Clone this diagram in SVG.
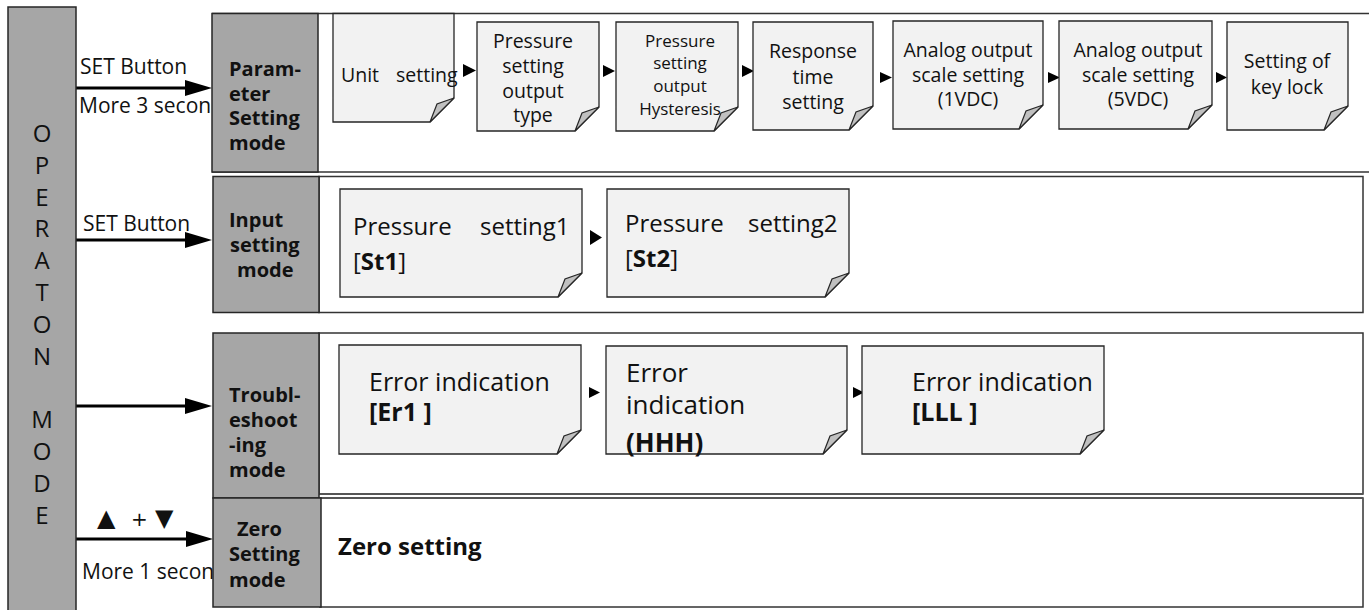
<svg xmlns="http://www.w3.org/2000/svg" width="1369" height="610" viewBox="0 0 1369 610">
<style>
text{font-family:"Open Sans","Noto Sans","DejaVu Sans",sans-serif;fill:#111}
.grey{fill:#a6a6a6;stroke:#262626;stroke-width:1.5}
.note{fill:#f2f2f2;stroke:#262626;stroke-width:1.3}
.fold{fill:#c0c0c0;stroke:#262626;stroke-width:1.2}
.band{fill:#fff;stroke:#333;stroke-width:1.5}
.lbl{font-weight:bold;font-size:20px}
.op{font-size:24px;text-anchor:middle}
.s1{font-size:19.5px;text-anchor:middle}
.s3{font-size:17px;text-anchor:middle}
.s2{font-size:24px}
.e{font-size:25px}
.b{font-weight:bold}
.arr{stroke:#000;stroke-width:3;fill:none}
.tri{fill:#000}
.cl{font-size:21px}
</style>
<rect x="0" y="0" width="1369" height="610" fill="#fff"/>

<g id="bands">
<line x1="212" y1="13.5" x2="1369" y2="13.5" stroke="#333" stroke-width="1.5"/>
<line x1="212" y1="172" x2="1369" y2="172" stroke="#333" stroke-width="1.5"/>
<rect class="band" x="319" y="176.5" width="1044" height="136"/>
<rect x="319" y="333" width="1044" height="161" fill="#fff" stroke="#333" stroke-width="1.5"/>
<line x1="319" y1="494" x2="1363" y2="494" stroke="#555" stroke-width="2.2"/>
<rect x="320" y="498" width="1043" height="109" fill="#fff" stroke="#333" stroke-width="1.5"/>
<line x1="320" y1="498" x2="1363" y2="498" stroke="#555" stroke-width="2.2"/>
</g>

<g id="connectors">
<line class="arr" x1="76" y1="88" x2="188" y2="88"/>
<polygon class="tri" points="185,80 212,88 185,96"/>
<text class="cl" x="80" y="74" font-size="22">SET Button</text>
<text class="cl" x="79" y="113">More 3 second</text>
<line class="arr" x1="76" y1="240" x2="188" y2="240"/>
<polygon class="tri" points="185,232 212,240 185,248"/>
<text class="cl" x="83" y="231" font-size="22">SET Button</text>
<line class="arr" x1="76" y1="406" x2="188" y2="406"/>
<polygon class="tri" points="185,398 212,406 185,414"/>
<line class="arr" x1="76" y1="539" x2="189" y2="539"/>
<polygon class="tri" points="186,531 213,539 186,547"/>
<text x="97" y="526" font-size="24" style="font-family:'DejaVu Sans',sans-serif"><tspan x="97">▲</tspan> <tspan x="131" font-size="20">+</tspan> <tspan x="155">▼</tspan></text>
<text class="cl" x="82" y="579">More 1 second</text>
<polygon class="tri" points="463,64 476,70.5 463,77"/>
<polygon class="tri" points="603,65 615,71 603,77"/>
<polygon class="tri" points="742,65 754,71 742,77"/>
<polygon class="tri" points="880,72 892,77.5 880,83"/>
<polygon class="tri" points="1048,72 1060,77.5 1048,83"/>
<polygon class="tri" points="1216,72 1227,77.5 1216,83"/>
<polygon class="tri" points="590,230 602,237.5 590,245"/>
<polygon class="tri" points="589,387 600,392.5 589,398"/>
<polygon class="tri" points="853,387 864,392.5 853,398"/>
</g>

<g id="operation-mode">
<rect class="grey" x="8" y="7" width="68" height="606"/>
<text class="op" x="42" y="142">O</text>
<text class="op" x="42" y="174">P</text>
<text class="op" x="42" y="206">E</text>
<text class="op" x="42" y="237">R</text>
<text class="op" x="42" y="269">A</text>
<text class="op" x="42" y="301">T</text>
<text class="op" x="42" y="333">O</text>
<text class="op" x="42" y="365">N</text>
<text class="op" x="42" y="428">M</text>
<text class="op" x="42" y="460">O</text>
<text class="op" x="42" y="492">D</text>
<text class="op" x="42" y="524">E</text>
</g>

<g id="parameter-setting-mode">
<rect class="grey" x="212" y="13.5" width="106" height="158.5"/>
<text class="lbl" x="229" y="76">Param-</text>
<text class="lbl" x="229" y="100.5">eter</text>
<text class="lbl" x="229" y="125">Setting</text>
<text class="lbl" x="229" y="150">mode</text>
</g>
<g id="input-setting-mode">
<rect class="grey" x="213" y="176.5" width="106" height="136"/>
<text class="lbl" x="229" y="227">Input</text>
<text class="lbl" x="230" y="252">setting</text>
<text class="lbl" x="237" y="277">mode</text>
</g>
<g id="troubleshooting-mode">
<rect class="grey" x="213" y="333" width="106" height="165"/>
<text class="lbl" x="229" y="402">Troubl-</text>
<text class="lbl" x="229" y="427">eshoot</text>
<text class="lbl" x="229" y="452">-ing</text>
<text class="lbl" x="229" y="477">mode</text>
</g>
<g id="zero-setting-mode">
<rect class="grey" x="213" y="498" width="108" height="109"/>
<text class="lbl" x="237" y="536">Zero</text>
<text class="lbl" x="229" y="561">Setting</text>
<text class="lbl" x="229" y="587">mode</text>
</g>

<g id="unit-setting">
<path class="note" d="M333 13.5H454V98L430 122H333Z"/>
<polygon class="fold" points="454,98 437,104 430,122"/>
<text x="341" y="82" font-size="19.5">Unit <tspan x="396">setting</tspan></text>
</g>
<g id="pressure-setting-output-type">
<path class="note" d="M477 22H599V107L575 131H477Z"/>
<polygon class="fold" points="599,107 582,113 575,131"/>
<text class="s1" x="533" y="48">Pressure</text>
<text class="s1" x="533" y="73">setting</text>
<text class="s1" x="533" y="98">output</text>
<text class="s1" x="533" y="122">type</text>
</g>
<g id="pressure-setting-output-hysteresis">
<path class="note" d="M616 22H738V107L714 131H616Z"/>
<polygon class="fold" points="738,107 721,113 714,131"/>
<text class="s3" x="680" y="47">Pressure</text>
<text class="s3" x="680" y="69">setting</text>
<text class="s3" x="680" y="92">output</text>
<text class="s3" x="680" y="115">Hysteresis</text>
</g>
<g id="response-time-setting">
<path class="note" d="M753 22H873V106L849 130H753Z"/>
<polygon class="fold" points="873,106 856,112 849,130"/>
<text class="s1" x="813" y="58">Response</text>
<text class="s1" x="813" y="84">time</text>
<text class="s1" x="813" y="109">setting</text>
</g>
<g id="analog-1vdc">
<path class="note" d="M893 21H1043V105L1019 129H893Z"/>
<polygon class="fold" points="1043,105 1026,111 1019,129"/>
<text class="s1" x="968" y="57" font-size="20">Analog output</text>
<text class="s1" x="968" y="82" font-size="20">scale setting</text>
<text class="s1" x="968" y="106" font-size="20">(1VDC)</text>
</g>
<g id="analog-5vdc">
<path class="note" d="M1059 21H1212V105L1188 129H1059Z"/>
<polygon class="fold" points="1212,105 1195,111 1188,129"/>
<text class="s1" x="1138" y="57" font-size="20">Analog output</text>
<text class="s1" x="1138" y="82" font-size="20">scale setting</text>
<text class="s1" x="1138" y="106" font-size="20">(5VDC)</text>
</g>
<g id="key-lock">
<path class="note" d="M1227 22H1348V106L1324 130H1227Z"/>
<polygon class="fold" points="1348,106 1331,112 1324,130"/>
<text class="s1" x="1287" y="68" font-size="20">Setting of</text>
<text class="s1" x="1287" y="94" font-size="20">key lock</text>
</g>

<g id="pressure-setting1">
<path class="note" d="M340 189H582V273L558 297H340Z"/>
<polygon class="fold" points="582,273 565,279 558,297"/>
<text class="s2" x="353" y="235">Pressure <tspan x="480">setting1</tspan></text>
<text class="s2" x="353" y="270">[<tspan class="b">St1</tspan>]</text>
</g>
<g id="pressure-setting2">
<path class="note" d="M607 189H849V273L825 297H607Z"/>
<polygon class="fold" points="849,273 832,279 825,297"/>
<text class="s2" x="625" y="232">Pressure <tspan x="748">setting2</tspan></text>
<text class="s2" x="625" y="267">[<tspan class="b">St2</tspan>]</text>
</g>

<g id="error-er1">
<path class="note" d="M339 345H581V430L557 454H339Z"/>
<polygon class="fold" points="581,430 564,436 557,454"/>
<text class="e" x="369" y="391">Error indication</text>
<text class="e b" x="369" y="421">[Er1 ]</text>
</g>
<g id="error-hhh">
<path class="note" d="M606 346H847V430L823 454H606Z"/>
<polygon class="fold" points="847,430 830,436 823,454"/>
<text x="626" y="382" font-size="26">Error</text>
<text x="626" y="414" font-size="26">indication</text>
<text class="b" x="626" y="452" font-size="26">(HHH)</text>
</g>
<g id="error-lll">
<path class="note" d="M862 346H1104V430L1080 454H862Z"/>
<polygon class="fold" points="1104,430 1087,436 1080,454"/>
<text class="e" x="912" y="391">Error indication</text>
<text class="e b" x="912" y="421">[LLL ]</text>
</g>

<g id="zero-setting">
<text class="b" x="338" y="555" font-size="24">Zero setting</text>
</g>
</svg>
